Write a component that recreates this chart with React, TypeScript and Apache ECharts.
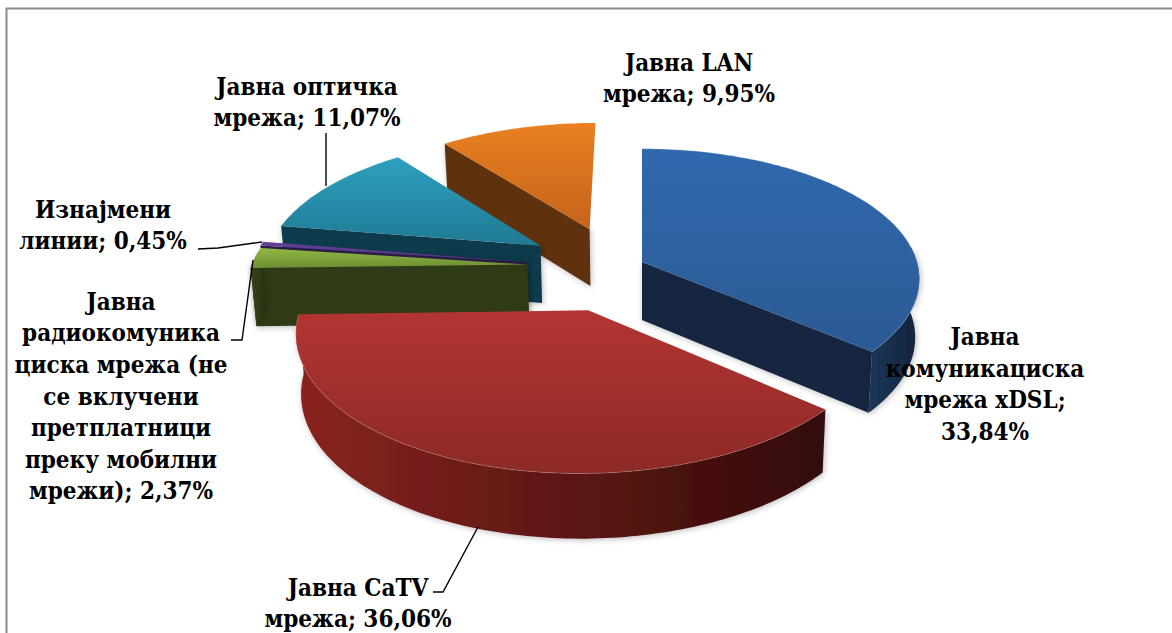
import React, { useEffect, useRef } from "react";
import * as echarts from "echarts";

const sliceNames = ["xDSL", "CaTV", "Radio", "Leased", "Optical", "LAN"];
const sliceValues = [33.84, 36.06, 2.37, 0.45, 11.07, 9.95];
const drawOrder = [5, 0, 4, 3, 2, 1];
const topColors = [
  ["#3069ae", "#2a5a94"],
  ["#b33532", "#8c2926"],
  ["#90b844", "#6b8f30"],
  ["#65419a", "#50337c"],
  ["#2fa0bf", "#1f7a94"],
  ["#ea8022", "#c4631a"],
];
const wallColors = ["#13263f", "#4a110f", "#2e3a14", "#2a1c45", "#0f3a4c", "#5e300d"];
const outerColors = [
  ["#1c3759", "#12233b"],
  ["#8a2420", "#320b09"],
  ["#36441a", "#2a3512"],
  ["#2f2050", "#2a1c45"],
  ["#124658", "#0f3a4c"],
  ["#6d380f", "#5e300d"],
];
// displacement of each slice's tip on the disc (in disc radii)
const explodeU = [0, -0.1865, -0.415, -0.42, -0.375, -0.197];
const explodeV = [0, 0.36, 0.02, 0.0, -0.13, -0.265];

const labelTexts = [
  "Јавна\nкомуникациска\nмрежа xDSL;\n33,84%",
  "Јавна CaTV\nмрежа; 36,06%",
  "Јавна\nрадиокомуника\nциска мрежа (не\nсе вклучени\nпретплатници\nпреку мобилни\nмрежи); 2,37%",
  "Изнајмени\nлинии; 0,45%",
  "Јавна оптичка\nмрежа; 11,07%",
  "Јавна LAN\nмрежа; 9,95%",
];
const labelCenters = [
  [985, 384],
  [358, 603],
  [121, 396],
  [103, 225],
  [307, 102],
  [689, 78],
];
const leaderLines = [
  [[326, 133], [326, 186]],
  [[198, 249], [218, 248], [262, 242]],
  [[231, 340], [242, 340], [253, 260]],
  [[433, 592], [443, 592], [478, 527]],
];

const VX = 642, VY = 262, RX = 275, RY = 128, K = 0.13, DEPTH = 58;
const LINE_STEP = 31.6;

function project(u: number, v: number, lower: boolean): number[] {
  const s = 1 / (1 - K * v);
  let x = VX + RX * u * s;
  let y = VY + RY * v * s;
  if (lower) {
    x = VX + (x - VX) * 0.985;
    y += DEPTH * Math.pow(s, 0.6);
  }
  return [x, y];
}

// a straight cut face shows only when its outer side points down the screen
function cutFaceShows(tip: number[], edge: number[], inner: number[]) {
  const ex = edge[0] - tip[0], ey = edge[1] - tip[1];
  let nx = -ey, ny = ex;
  if (nx * (inner[0] - tip[0]) + ny * (inner[1] - tip[1]) > 0) {
    nx = -nx;
    ny = -ny;
  }
  return ny / Math.hypot(nx, ny) > 0.1;
}

function renderSlice(params: any) {
  const i = drawOrder[params.dataIndex];
  const total = sliceValues.reduce((a, b) => a + b, 0);
  const before = sliceValues.slice(0, i).reduce((a, b) => a + b, 0);
  const a0 = (before / total) * Math.PI * 2;
  const a1 = ((before + sliceValues[i]) / total) * Math.PI * 2;
  const du = explodeU[i], dv = explodeV[i];
  const steps = Math.max(4, Math.ceil((a1 - a0) / 0.02));
  const upper: number[][] = [];
  const bandTop: number[][] = [];
  const bandLow: number[][] = [];
  const lowerArc: number[][] = [];
  for (let n = 0; n <= steps; n++) {
    const a = a0 + ((a1 - a0) * n) / steps;
    const u = du + Math.sin(a), v = dv - Math.cos(a);
    const top = project(u, v, false);
    const low = project(u, v, true);
    upper.push(top);
    lowerArc.push(low);
    // the rounded outside is seen only on the near half of the disc
    if (Math.cos(a) < 0.12) {
      bandTop.push(top);
      bandLow.push(low);
    }
  }
  const tip = project(du, dv, false);
  const tipLow = project(du, dv, true);
  const mid = upper[Math.floor(steps / 2)];
  const grad = (x2: number, y2: number, c: string[]) =>
    new echarts.graphic.LinearGradient(0, 0, x2, y2, [
      { offset: 0, color: c[0] },
      { offset: 1, color: c[1] },
    ]);
  const shadow = { shadowColor: "rgba(0,0,0,0.28)", shadowBlur: 6, shadowOffsetX: 1, shadowOffsetY: 1 };
  const wall = (p: number[][]) => ({
    type: "polygon",
    shape: { points: p },
    style: { fill: wallColors[i], ...shadow },
  });
  const children: any[] = [];
  if (cutFaceShows(tip, upper[0], mid)) children.push(wall([tip, upper[0], lowerArc[0], tipLow]));
  if (cutFaceShows(tip, upper[steps], mid)) children.push(wall([tip, upper[steps], lowerArc[steps], tipLow]));
  if (bandTop.length > 1) {
    children.push({
      type: "polygon",
      shape: { points: [...bandTop, ...[...bandLow].reverse()] },
      style: { fill: grad(1, 0, outerColors[i]), ...shadow },
    });
  }
  children.push(
    {
      type: "polygon",
      shape: { points: [tip, ...upper] },
      style: { fill: grad(0, 1, topColors[i]) },
    },
    {
      type: "polyline",
      shape: { points: upper },
      style: { fill: "none", stroke: "rgba(255,255,255,0.18)", lineWidth: 1 },
    },
  );
  return { type: "group", children };
}

export default function App() {
  const ref = useRef<HTMLDivElement>(null);
  useEffect(() => {
    const chart = echarts.init(ref.current!, null, { renderer: "svg" });
    const textEls = labelTexts.flatMap((t, i) => {
      const lines = t.split("\n");
      return lines.map((line, n) => ({
        type: "text",
        x: labelCenters[i][0],
        y: labelCenters[i][1] + (n - (lines.length - 1) / 2) * LINE_STEP,
        z: 100,
        style: {
          text: line,
          fill: "#000",
          font: 'bold 24px "DejaVu Serif Condensed", "DejaVu Serif", serif',
          align: "center",
          verticalAlign: "middle",
        },
      }));
    });
    const leaderEls = leaderLines.map((pts) => ({
      type: "polyline",
      z: 90,
      shape: { points: pts },
      style: { fill: "none", stroke: "#000", lineWidth: 1.4 },
    }));
    chart.setOption({
      animation: false,
      backgroundColor: "#fff",
      graphic: {
        elements: [
          {
            type: "rect",
            z: -1,
            shape: { x: 6.5, y: 8.5, width: 1300, height: 800 },
            style: { fill: "#fff", stroke: "#8c8c8c", lineWidth: 2 },
          },
          ...leaderEls,
          ...textEls,
        ],
      },
      series: [
        {
          type: "custom",
          coordinateSystem: "none",
          silent: true,
          z: 10,
          renderItem: renderSlice,
          data: drawOrder.map((i) => ({ name: sliceNames[i], value: sliceValues[i] })),
        },
      ],
    });
    return () => chart.dispose();
  }, []);
  return <div ref={ref} style={{ position: "fixed", left: 0, top: 0, width: 1172, height: 633 }} />;
}
